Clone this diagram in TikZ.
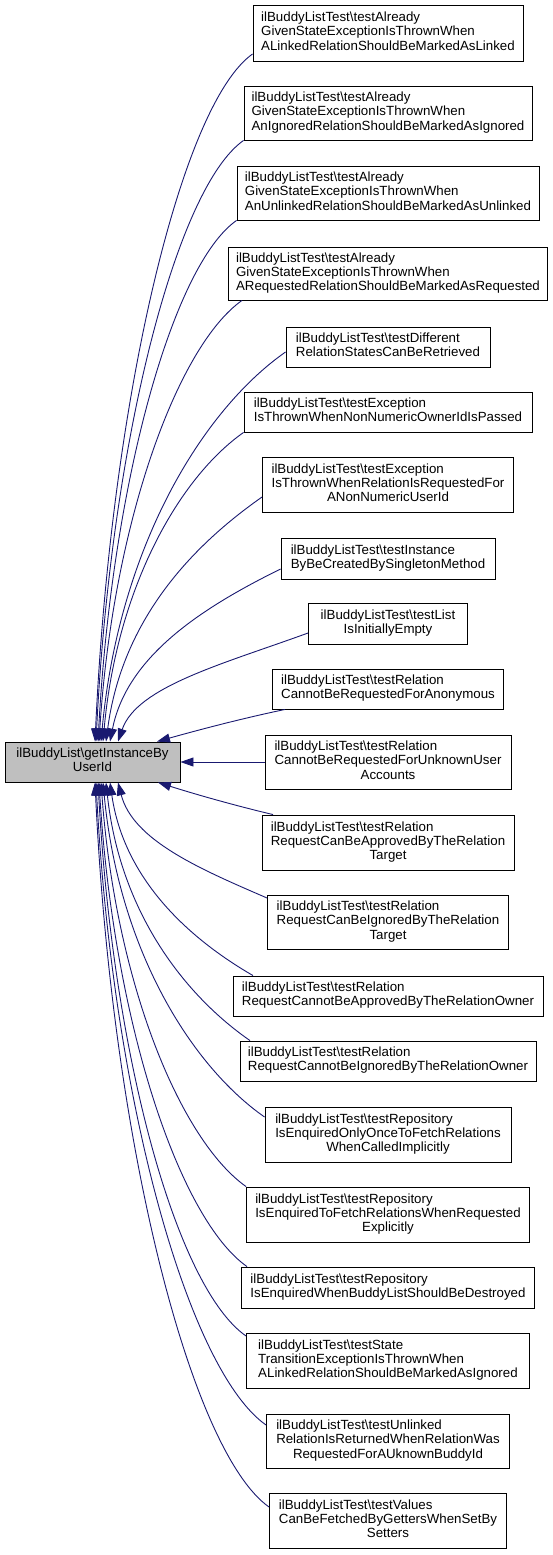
\documentclass[tikz,border=0pt]{standalone}
\usepackage{fontspec}
\setmainfont{Liberation Sans}
\usetikzlibrary{arrows.meta}
\definecolor{edgeblue}{HTML}{191970}
\definecolor{maingray}{HTML}{BFBFBF}
\newcommand\mybs{\textbackslash}
\newcommand\LabTwo[2]{\begin{tabular}{@{}l@{}}#1\\\multicolumn{1}{@{}c@{}}{#2}\end{tabular}}
\newcommand\LabThree[3]{\begin{tabular}{@{}l@{}}#1\\#2\\\multicolumn{1}{@{}c@{}}{#3}\end{tabular}}
\begin{document}
\begin{tikzpicture}[x=1pt, y=-1pt,
  box/.style={draw=black, line width=0.9pt, inner sep=0pt, fill=white,
    font=\fontsize{13.3}{14.2}\selectfont},
  edge/.style={draw=edgeblue, line width=0.9pt,
    -{Triangle[length=13pt,width=9pt]}, fill=none}]
\useasboundingbox (0,0) rectangle (553,1555);

\node[box, fill=maingray, minimum width=175pt, minimum height=40pt] (m) at (92.5,762)
  {\LabTwo{ilBuddyList\mybs getInstanceBy}{UserId}};

\node[box, minimum width=270pt, minimum height=56pt] (b1) at (388,33)
  {\LabThree{ilBuddyListTest\mybs testAlready}{GivenStateExceptionIsThrownWhen}{ALinkedRelationShouldBeMarkedAsLinked}};
\node[box, minimum width=288pt, minimum height=54pt] (b2) at (388,113)
  {\LabThree{ilBuddyListTest\mybs testAlready}{GivenStateExceptionIsThrownWhen}{AnIgnoredRelationShouldBeMarkedAsIgnored}};
\node[box, minimum width=302pt, minimum height=54pt] (b3) at (388,193)
  {\LabThree{ilBuddyListTest\mybs testAlready}{GivenStateExceptionIsThrownWhen}{AnUnlinkedRelationShouldBeMarkedAsUnlinked}};
\node[box, minimum width=319pt, minimum height=53pt] (b4) at (388,273.5)
  {\LabThree{ilBuddyListTest\mybs testAlready}{GivenStateExceptionIsThrownWhen}{ARequestedRelationShouldBeMarkedAsRequested}};
\node[box, minimum width=204pt, minimum height=40pt] (b5) at (388,347)
  {\LabTwo{ilBuddyListTest\mybs testDifferent}{RelationStatesCanBeRetrieved}};
\node[box, minimum width=288pt, minimum height=40pt] (b6) at (388,412)
  {\LabTwo{ilBuddyListTest\mybs testException}{IsThrownWhenNonNumericOwnerIdIsPassed}};
\node[box, minimum width=251pt, minimum height=55pt] (b7) at (388,484.5)
  {\LabThree{ilBuddyListTest\mybs testException}{IsThrownWhenRelationIsRequestedFor}{ANonNumericUserId}};
\node[box, minimum width=214pt, minimum height=41pt] (b8) at (388,558.5)
  {\LabTwo{ilBuddyListTest\mybs testInstance}{ByBeCreatedBySingletonMethod}};
\node[box, minimum width=159pt, minimum height=41pt] (b9) at (388,623.5)
  {\LabTwo{ilBuddyListTest\mybs testList}{IsInitiallyEmpty}};
\node[box, minimum width=231pt, minimum height=40pt] (b10) at (388,689)
  {\LabTwo{ilBuddyListTest\mybs testRelation}{CannotBeRequestedForAnonymous}};
\node[box, minimum width=246pt, minimum height=54pt] (b11) at (388,762)
  {\LabThree{ilBuddyListTest\mybs testRelation}{CannotBeRequestedForUnknownUser}{Accounts}};
\node[box, minimum width=252pt, minimum height=55pt] (b12) at (388,842.5)
  {\LabThree{ilBuddyListTest\mybs testRelation}{RequestCanBeApprovedByTheRelation}{Target}};
\node[box, minimum width=241pt, minimum height=54pt] (b13) at (388,922)
  {\LabThree{ilBuddyListTest\mybs testRelation}{RequestCanBeIgnoredByTheRelation}{Target}};
\node[box, minimum width=310pt, minimum height=40pt] (b14) at (388,996)
  {\LabTwo{ilBuddyListTest\mybs testRelation}{RequestCannotBeApprovedByTheRelationOwner}};
\node[box, minimum width=296pt, minimum height=40pt] (b15) at (388,1061)
  {\LabTwo{ilBuddyListTest\mybs testRelation}{RequestCannotBeIgnoredByTheRelationOwner}};
\node[box, minimum width=246pt, minimum height=55pt] (b16) at (388,1134.5)
  {\LabThree{ilBuddyListTest\mybs testRepository}{IsEnquiredOnlyOnceToFetchRelations}{WhenCalledImplicitly}};
\node[box, minimum width=283pt, minimum height=55pt] (b17) at (388,1214.5)
  {\LabThree{ilBuddyListTest\mybs testRepository}{IsEnquiredToFetchRelationsWhenRequested}{Explicitly}};
\node[box, minimum width=293pt, minimum height=41pt] (b18) at (388,1287.5)
  {\LabTwo{ilBuddyListTest\mybs testRepository}{IsEnquiredWhenBuddyListShouldBeDestroyed}};
\node[box, minimum width=283pt, minimum height=55pt] (b19) at (388,1360.5)
  {\LabThree{ilBuddyListTest\mybs testState}{TransitionExceptionIsThrownWhen}{ALinkedRelationShouldBeMarkedAsIgnored}};
\node[box, minimum width=243pt, minimum height=54pt] (b20) at (388,1441)
  {\LabThree{ilBuddyListTest\mybs testUnlinked}{RelationIsReturnedWhenRelationWas}{RequestedForAUknownBuddyId}};
\node[box, minimum width=237pt, minimum height=55pt] (b21) at (388,1520.5)
  {\LabThree{ilBuddyListTest\mybs testValues}{CanBeFetchedByGettersWhenSetBy}{Setters}};

% upper edges
\draw[edge] (b1.west |- 0,54) .. controls +(-71,50) and +(16,-344) .. (m.north -| 95,0);
\draw[edge] (b2.south west) .. controls +(-67,47) and +(15,-301) .. (m.north -| 96,0);
\draw[edge] (b3.south west) .. controls +(-63,44) and +(14,-261) .. (m.north -| 98,0);
\draw[edge] (b4.south -| 242,0) .. controls +(-64,45) and +(14,-220) .. (m.north -| 99,0);
\draw[edge] (b5.west |- 0,352) .. controls +(-83,58) and +(18,-195) .. (m.north -| 101,0);
\draw[edge] (b6.south west) .. controls +(-64,45) and +(14,-155) .. (m.north -| 103,0);
\draw[edge] (b7.west |- 0,497) .. controls +(-70,49) and +(16,-122) .. (m.north -| 106,0);
\draw[edge] (b8.west |- 0,569) .. controls +(-77,38) and +(17,-86) .. (m.north -| 110,0);
\draw[edge] (b9.west |- 0,633) .. controls +(-85,31) and +(19,-55) .. (m.north -| 118,0);
\draw[edge] (b10.south -| 285,0) .. controls +(-43,9) and +(43,-12) .. (m.north -| 157,0);
% middle
\draw[edge] (b11.west) -- (m.east);
% lower edges
\draw[edge] (b12.north -| 273,0) .. controls +(-38,-9) and +(38,12) .. (m.south -| 158,0);
\draw[edge] (b13.west |- 0,898) .. controls +(-67,-29) and +(15,58) .. (m.south -| 118,0);
\draw[edge] (b14.north -| 253,0) .. controls +(-64,-37) and +(14,97) .. (m.south -| 110,0);
\draw[edge] (b15.north -| 250,0) .. controls +(-65,-45) and +(14,130) .. (m.south -| 106,0);
\draw[edge] (b16.west |- 0,1117) .. controls +(-73,-51) and +(16,168) .. (m.south -| 103,0);
\draw[edge] (b17.north west) .. controls +(-65,-46) and +(15,203) .. (m.south -| 101,0);
\draw[edge] (b18.north -| 247,0) .. controls +(-67,-47) and +(15,243) .. (m.south -| 99,0);
\draw[edge] (b19.west |- 0,1336) .. controls +(-69,-48) and +(15,277) .. (m.south -| 98,0);
\draw[edge] (b20.west |- 0,1425) .. controls +(-77,-54) and +(17,322) .. (m.south -| 96,0);
\draw[edge] (b21.west |- 0,1507) .. controls +(-78,-55) and +(17,363) .. (m.south -| 95,0);
\end{tikzpicture}
\end{document}
